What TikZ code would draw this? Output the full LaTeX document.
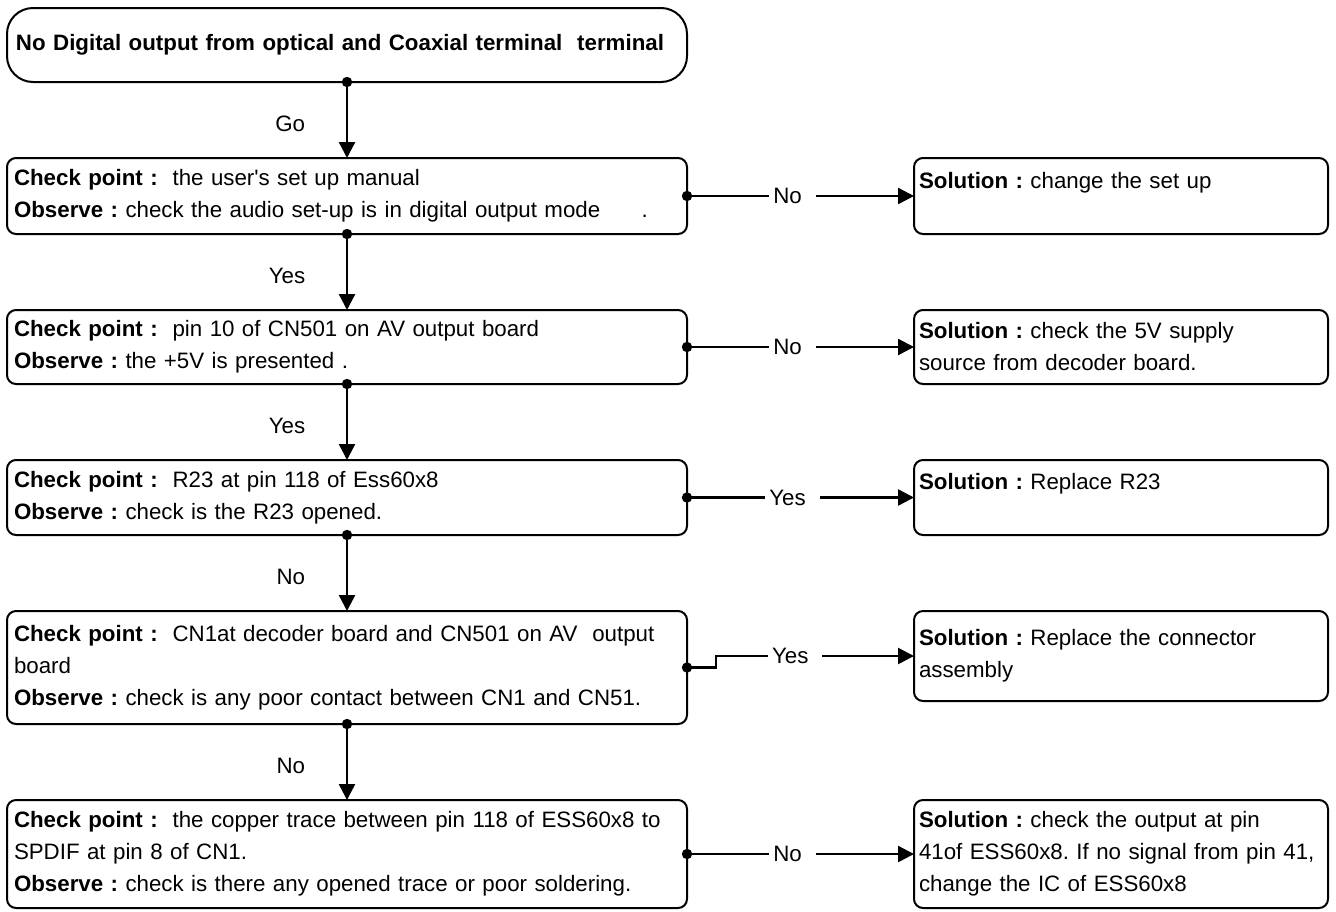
\documentclass[tikz,border=0pt]{standalone}
\usepackage{fontspec}
\setmainfont{Liberation Sans}
\usetikzlibrary{positioning,arrows.meta}

\begin{document}
\frenchspacing
\begin{tikzpicture}[
    font=\fontsize{11.15pt}{16pt}\selectfont,
    node distance=38pt,
    box/.style={draw, line width=1pt, outer sep=0pt, rounded corners=4.5pt, align=left, inner xsep=3.5pt, inner ysep=0pt},
    chkbox/.style={box, text width=333pt},
    solbox/.style={box, inner xsep=2.5pt, text width=202pt},
    conn/.style={line width=1.2pt, -{Triangle[length=8pt,width=8pt]}},
    lbl/.style={fill=white, inner xsep=2pt, inner ysep=2pt, execute at end node={\hspace{5pt}}},
    vlbl/.style={left=17pt, pos=.55}
  ]
  \useasboundingbox (0,0) rectangle (668pt,-455.5pt);

  \node (start) [draw, line width=1pt, outer sep=0pt, rounded corners=13pt, anchor=north west, minimum height=37pt, text width=331pt, inner xsep=4.5pt, align=left] at (3.5pt,-4pt) {\textbf{No Digital output from optical and Coaxial terminal~ terminal}};

  \node (c1) [chkbox, minimum height=38pt, below=of start] {\textbf{Check point :}~ the user\textquotesingle s set up manual\\\textbf{Observe :} check the audio set-up is in digital output mode\hspace{17pt} .};
  \node (c2) [chkbox, minimum height=37pt, below=of c1] {\textbf{Check point :}~ pin 10 of CN501 on AV output board\\\textbf{Observe :} the +5V is presented .};
  \node (c3) [chkbox, minimum height=37.5pt, below=of c2] {\textbf{Check point :}~ R23 at pin 118 of Ess60x8\\\textbf{Observe :} check is the R23 opened.};
  \node (c4) [chkbox, minimum height=56.5pt, below=of c3] {\textbf{Check point :}~ CN1at decoder board and CN501 on AV~ output\\board\\\textbf{Observe :} check is any poor contact between CN1 and CN51.};
  \node (c5) [chkbox, minimum height=54pt, below=of c4] {\textbf{Check point :}~ the copper trace between pin 118 of ESS60x8 to\\SPDIF at pin 8 of CN1.\\\textbf{Observe :} check is there any opened trace or poor soldering.};

  \node (s1) [solbox, minimum height=38pt, right=113.5pt of c1] {\textbf{Solution :} change the set up\\\mbox{}};
  \node (s2) [solbox, minimum height=37pt, right=113.5pt of c2] {\textbf{Solution :} check the 5V supply\\source from decoder board.};
  \node (s3) [solbox, minimum height=37.5pt, right=113.5pt of c3] {\textbf{Solution :} Replace R23\\\mbox{}};
  \node (s4) [solbox, minimum height=45pt, right=113.5pt of c4.north east, anchor=north west] {\textbf{Solution :} Replace the connector\\assembly};
  \node (s5) [solbox, minimum height=54pt, right=113.5pt of c5] {\textbf{Solution :} check the output at pin\\41of ESS60x8. If no signal from pin 41,\\change the IC of ESS60x8};

  \draw[conn] (start.south) -- node[vlbl]{Go} (c1.north);
  \draw[conn] (c1.south) -- node[vlbl]{Yes} (c2.north);
  \draw[conn] (c2.south) -- node[vlbl]{Yes} (c3.north);
  \draw[conn] (c3.south) -- node[vlbl]{No} (c4.north);
  \draw[conn] (c4.south) -- node[vlbl]{No} (c5.north);

  \draw[conn] (c1.east) -- node[lbl, pos=.465]{No} (s1.west);
  \draw[conn] (c2.east) -- node[lbl, pos=.465]{No} (s2.west);
  \draw[conn] (c3.east) -- node[lbl, pos=.465]{Yes} (s3.west);
  \draw[conn] (c4.east) -- ++(14.5pt,0) |- node[lbl, pos=.7]{Yes} (s4.west);
  \draw[conn] (c5.east) -- node[lbl, pos=.465]{No} (s5.west);

  \foreach \p in {start.south, c1.south, c2.south, c3.south, c4.south, c1.east, c2.east, c3.east, c4.east, c5.east}
    \fill (\p) circle (2.6pt);
\end{tikzpicture}
\end{document}
